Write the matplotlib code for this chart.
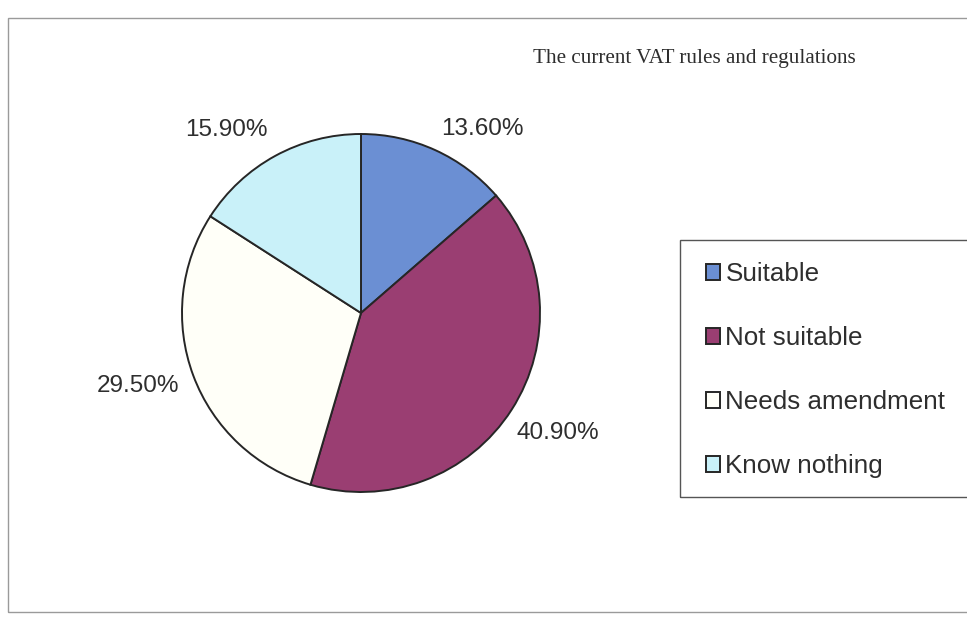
import numpy as np
import matplotlib.pyplot as plt
from matplotlib.patches import Rectangle

# data
categories = ['Suitable', 'Not suitable', 'Needs amendment', 'Know nothing']
shares = [13.6, 40.9, 29.5, 15.9]
pct_labels = ['13.60%', '40.90%', '29.50%', '15.90%']
colors = ['#6b8fd3', '#9a3e72', '#fffff8', '#c9f1f9']

W, H = 967, 620
fig = plt.figure(figsize=(W / 100, H / 100), dpi=100)
fig.patch.set_facecolor('white')

# outer frame of the chart area
fig.patches.append(Rectangle((8 / W, 1 - 612 / H), 1.0, (612 - 18) / H,
                             transform=fig.transFigure, fill=False,
                             edgecolor='#9a9a9a', linewidth=1.0))

# pie axes: centre (361, 313) px, radius ~179 px
r = 179
cx, cy = 361, 313
ax = fig.add_axes([(cx - r) / W, 1 - (cy + r) / H, 2 * r / W, 2 * r / H])
wedges, texts = ax.pie(shares, labels=pct_labels, colors=colors,
                       startangle=90, counterclock=False, labeldistance=1.27,
                       wedgeprops=dict(edgecolor='#262626', linewidth=1.4),
                       textprops=dict(fontsize=17.5, color='#2e2e2e',
                                      family='Liberation Sans'))

# excel-style label placement: distance / angle shift per label (degrees)
label_dist = [1.23, 1.29, 1.31, 1.27]
label_shift = [-9, 1.3, -2.4, 7.6]
for t, w, d, s in zip(texts, wedges, label_dist, label_shift):
    mid = np.deg2rad((w.theta1 + w.theta2) / 2 + s)
    t.set_position((d * np.cos(mid), d * np.sin(mid)))
    t.set_ha('center')
    t.set_va('center')
ax.set_xlim(-1, 1)
ax.set_ylim(-1, 1)
ax.set_aspect('equal')
ax.axis('off')

# title
fig.text(694 / W, 1 - 58 / H, 'The current VAT rules and regulations',
         ha='center', va='center', fontsize=15.2, family='Liberation Serif',
         color='#2e2e2e')

# legend box
fig.patches.append(Rectangle((680 / W, 1 - 497 / H), 1.0, (497 - 240) / H,
                             transform=fig.transFigure, fill=False,
                             edgecolor='#555555', linewidth=1.0))
leg = fig.legend(wedges, categories, loc='upper left',
                 bbox_to_anchor=(706 / W, 1 - 262 / H), frameon=False,
                 borderaxespad=0, borderpad=0, handlelength=0.55,
                 handleheight=0.55, handletextpad=0.2, labelspacing=1.54,
                 prop=dict(family='Liberation Sans', size=18.7))
for t in leg.get_texts():
    t.set_color('#2e2e2e')

fig.savefig('out.png', dpi=100)
